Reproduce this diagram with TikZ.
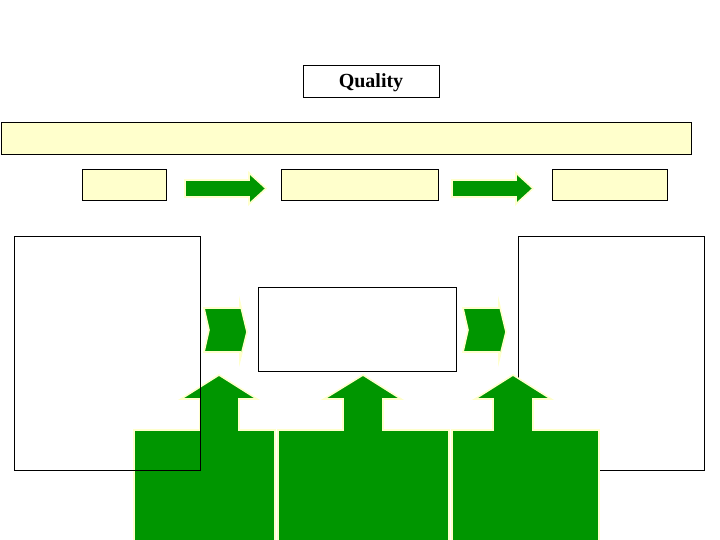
\documentclass[tikz,border=0pt]{standalone}
\usepackage{fontspec}
\setmainfont{Liberation Serif}
\usetikzlibrary{positioning}
\usepackage{xcolor}
\definecolor{flechaverde}{RGB}{0,150,0}
\definecolor{amarillo}{RGB}{255,255,204}

\begin{document}
\begin{tikzpicture}[x=1pt, y=-1pt,
cajaamarilla/.style={rectangle, draw=black, fill=amarillo, line width=0.8pt, inner sep=0pt, outer sep=0pt, anchor=north west},
cajablanca/.style={rectangle, draw=black, line width=0.8pt, inner sep=0pt, outer sep=0pt, anchor=north west},
formaverde/.style={fill=flechaverde, draw=amarillo, line width=1.6pt, line join=miter},
]
\useasboundingbox (0,0) rectangle (720,540);

%Nodes
%%% Titulo
\node[cajablanca, minimum width=136pt, minimum height=32pt] (calidad) at (303,65) {};
\node[font=\bfseries\fontsize{20}{22}\selectfont, yshift=-2pt] at (calidad.center) {Quality};

%%% Barra larga
\node[cajaamarilla, minimum width=690pt, minimum height=32pt] (barra) at (1,122) {};

%%% Fila de cajas
\node[cajaamarilla, minimum width=84pt, minimum height=31pt]  (pasoUno) at (82,169) {};
\node[cajaamarilla, minimum width=157pt, minimum height=31pt] (pasoDos) [right=115pt of pasoUno.north east, anchor=north west] {};
\node[cajaamarilla, minimum width=115pt, minimum height=31pt] (pasoTres) [right=114pt of pasoDos.north east, anchor=north west] {};

%%% Cajas grandes
\node[cajablanca, minimum width=186pt, minimum height=234pt] (derecha) at (518,236) {};
\node[cajablanca, fill=white, minimum width=198pt, minimum height=84pt] (centro) at (258,287) {};

%Arrows
%%% Horizontales
\path[formaverde] (185,180) -- (249,180) -- (249,173) -- (266,188.5) -- (249,204) -- (249,197) -- (185,197) -- cycle;
\path[formaverde] (452,180) -- (516,180) -- (516,173) -- (533,188.5) -- (516,204) -- (516,197) -- (452,197) -- cycle;

%%% Chevrones
\path[formaverde] (204,308) -- (240,308) -- (240,303) -- (247,332) -- (240,360) -- (240,352) -- (204,352) -- (209,330) -- cycle;
\path[formaverde] (463,308) -- (499,308) -- (499,303) -- (506,332) -- (499,360) -- (499,352) -- (463,352) -- (468,330) -- cycle;

%%% Bloques con flecha hacia arriba
\path[formaverde] (134,545) -- (134,430) -- (200,430) -- (200,399) -- (181,399) -- (219,375) -- (257,399) -- (239,399) -- (239,430) -- (275,430) -- (275,545) -- cycle;
\path[formaverde] (278,545) -- (278,430) -- (343,430) -- (343,399) -- (324,399) -- (363,375) -- (401,399) -- (383,399) -- (383,430) -- (449,430) -- (449,545) -- cycle;
\path[formaverde] (452,545) -- (452,430) -- (493,430) -- (493,399) -- (475,399) -- (513,375) -- (551,399) -- (533,399) -- (533,430) -- (599,430) -- (599,545) -- cycle;

%%% Caja izquierda encima
\node[cajablanca, minimum width=186pt, minimum height=234pt] (izquierda) at (14,236) {};

\end{tikzpicture}
\end{document}
